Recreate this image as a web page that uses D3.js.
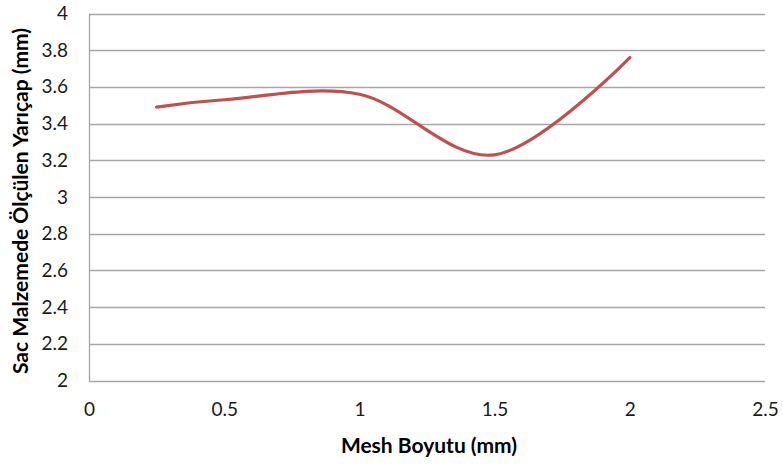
<!DOCTYPE html>
<html>
<head>
<meta charset="utf-8">
<script src="https://cdn.jsdelivr.net/npm/d3@7"></script>
<style>
  html, body { margin: 0; padding: 0; background: #fff; }
  svg text { font-family: Lato, "Open Sans", sans-serif; fill: #000; }
</style>
</head>
<body>
<svg id="chart" width="783" height="466"></svg>
<script>
// Mesh size (mm) vs. measured radius on the sheet material (mm)
const meshSizes = [0.25, 0.5, 1, 1.5, 2];
const radiusValues = [3.49, 3.53, 3.56, 3.23, 3.76];
const xTicks = [0, 0.5, 1, 1.5, 2, 2.5];
const yTicks = [2, 2.2, 2.4, 2.6, 2.8, 3, 3.2, 3.4, 3.6, 3.8, 4];
const xTitle = "Mesh Boyutu (mm)";
const yTitle = "Sac Malzemede Ölçülen Yarıçap (mm)";

const svg = d3.select("#chart");
const plot = { left: 89, right: 765, top: 13.5, bottom: 380.5 };

const x = d3.scaleLinear().domain([0, 2.5]).range([plot.left, plot.right]);
const y = d3.scaleLinear().domain([2, 4]).range([plot.bottom, plot.top]);

// horizontal gridlines
svg.append("g")
  .selectAll("line")
  .data(yTicks)
  .join("line")
  .attr("x1", plot.left).attr("x2", plot.right)
  .attr("y1", d => Math.round(y(d)) + 0.5).attr("y2", d => Math.round(y(d)) + 0.5)
  .attr("stroke", "#a6a6a6").attr("stroke-width", 1.3);

// left axis line
svg.append("line")
  .attr("x1", plot.left + 0.5).attr("x2", plot.left + 0.5)
  .attr("y1", plot.top).attr("y2", plot.bottom + 1)
  .attr("stroke", "#a6a6a6").attr("stroke-width", 1.3);

// y tick labels
const yAxis = d3.axisLeft(y).tickValues(yTicks).tickSize(0).tickPadding(21)
  .tickFormat(d => d3.format("~g")(d));
const gy = svg.append("g").attr("transform", `translate(${plot.left},0)`).call(yAxis);
gy.select(".domain").remove();
gy.selectAll("text").style("font-size", "19px").style("font-family", "Lato, sans-serif").style("fill", "#1a1a1a");

// x tick labels
const xAxis = d3.axisBottom(x).tickValues(xTicks).tickSize(0).tickPadding(22)
  .tickFormat(d => d3.format("~g")(d));
const gx = svg.append("g").attr("transform", `translate(0,${plot.bottom})`).call(xAxis);
gx.select(".domain").remove();
gx.selectAll("text").style("font-size", "19px").style("font-family", "Lato, sans-serif").style("fill", "#1a1a1a");

// smoothed series line
const line = d3.line()
  .x((d, i) => x(meshSizes[i]))
  .y(d => y(d))
  .curve(d3.curveCardinal.tension(0));
svg.append("path")
  .datum(radiusValues)
  .attr("d", line)
  .attr("fill", "none")
  .attr("stroke", "#c0504d")
  .attr("stroke-width", 3.2)
  .attr("stroke-linecap", "round");

// axis titles
svg.append("text")
  .attr("x", 429).attr("y", 453)
  .attr("text-anchor", "middle")
  .style("font-size", "21px").style("font-weight", "bold")
  .text(xTitle);
svg.append("text")
  .attr("transform", "translate(28,201) rotate(-90)")
  .attr("text-anchor", "middle")
  .style("font-size", "21px").style("font-weight", "bold")
  .text(yTitle);
</script>
</body>
</html>
